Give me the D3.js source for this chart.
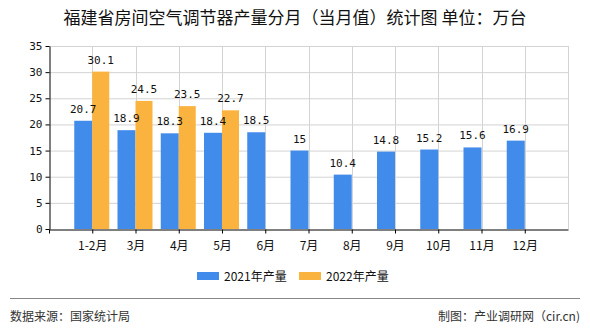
<!DOCTYPE html>
<html><head><meta charset="utf-8">
<script src="https://cdn.jsdelivr.net/npm/d3@7"></script>
<style>body{margin:0;background:#fff}svg{display:block}</style>
</head><body>
<svg id="c" width="590" height="330"></svg>
<script>
const categories = ["1-2月","3月","4月","5月","6月","7月","8月","9月","10月","11月","12月"];
const values2021 = [20.7,18.9,18.3,18.4,18.5,15,10.4,14.8,15.2,15.6,16.9];
const values2022 = [30.1,24.5,23.5,22.7];
const yTicks = [0,5,10,15,20,25,30,35];
const seriesNames = ["2021年产量","2022年产量"];
const colors = ["#418BEA","#FBB33F"];

(function(){
const svg = d3.select("#c");
const font = "'Noto Sans CJK SC', 'Noto Sans', sans-serif";
const pl = 49, pr = 568, pt = 46, pb = 229;
const x = d3.scalePoint().domain(categories).range([pl, pr]).padding(1);
const y = d3.scaleLinear().domain([0,35]).range([pb, pt]);

svg.append("text").attr("x",295).attr("y",24).attr("text-anchor","middle")
  .attr("font-family",font).attr("font-size",17).attr("fill","#111")
  .text("福建省房间空气调节器产量分月（当月值）统计图 单位：万台");

const g = svg.append("g");
g.selectAll(".hg").data(yTicks.slice(1)).enter().append("line")
  .attr("x1",pl).attr("x2",pr).attr("y1",d=>y(d)+0.5).attr("y2",d=>y(d)+0.5)
  .attr("stroke","#d3d3d3");
g.selectAll(".vg").data(categories).enter().append("line")
  .attr("x1",d=>Math.round(x(d))+0.5).attr("x2",d=>Math.round(x(d))+0.5)
  .attr("y1",pt).attr("y2",pb).attr("stroke","#d3d3d3");
g.append("line").attr("x1",pr+0.5).attr("x2",pr+0.5).attr("y1",pt).attr("y2",pb).attr("stroke","#d3d3d3");

const bw1 = 18, bw2 = 17;
svg.selectAll(".b1").data(values2021).enter().append("rect")
  .attr("x",(d,i)=>x(categories[i])-bw1).attr("width",bw1)
  .attr("y",d=>y(d)).attr("height",d=>pb-y(d)).attr("fill",colors[0]);
svg.selectAll(".b2").data(values2022).enter().append("rect")
  .attr("x",(d,i)=>x(categories[i])).attr("width",bw2)
  .attr("y",d=>y(d)).attr("height",d=>pb-y(d)).attr("fill",colors[1]);

const lf = "'DejaVu Sans Mono', monospace";
svg.selectAll(".l1").data(values2021).enter().append("text")
  .attr("x",(d,i)=>x(categories[i])-bw1/2).attr("y",d=>y(d)-8)
  .attr("text-anchor","middle").attr("font-family",lf).attr("font-size",11).attr("fill","#111")
  .text(d=>d);
svg.selectAll(".l2").data(values2022).enter().append("text")
  .attr("x",(d,i)=>x(categories[i])+bw2/2).attr("y",d=>y(d)-8)
  .attr("text-anchor","middle").attr("font-family",lf).attr("font-size",11).attr("fill","#111")
  .text(d=>d);

const ya = svg.append("g").attr("transform",`translate(${pl+0.5},0)`)
  .call(d3.axisLeft(y).tickValues(yTicks).tickSize(4).tickSizeOuter(0));
ya.select(".domain").attr("stroke","#000");
ya.selectAll("text").attr("font-family",lf).attr("font-size",11).attr("fill","#111");
const xa = svg.append("g").attr("transform",`translate(0,${pb+0.5})`)
  .call(d3.axisBottom(x).tickSize(4).tickSizeOuter(0));
xa.select(".domain").attr("stroke","#000");
xa.selectAll("text").attr("font-family",font).attr("font-size",12).attr("fill","#111").attr("dy","1.1em");
xa.append("line").attr("x1",pl+0.5).attr("x2",pl+0.5).attr("y1",0).attr("y2",4).attr("stroke","#000");

const lg = svg.append("g");
const lx = [197,299];
seriesNames.forEach((n,i)=>{
  lg.append("rect").attr("x",lx[i]).attr("y",272).attr("width",22).attr("height",8).attr("fill",colors[i]);
  lg.append("text").attr("x",lx[i]+27).attr("y",280.5).attr("font-family",font).attr("font-size",12)
    .attr("fill","#111").text(n);
});

svg.append("line").attr("x1",10).attr("x2",580).attr("y1",298.5).attr("y2",298.5).attr("stroke","#888");
svg.append("text").attr("x",10).attr("y",321).attr("font-family",font).attr("font-size",12).attr("fill","#333")
  .text("数据来源：国家统计局");
svg.append("text").attr("x",580).attr("y",321).attr("text-anchor","end").attr("font-family",font).attr("font-size",12).attr("fill","#333")
  .text("制图：产业调研网（cir.cn)");
})();
</script>
</body></html>
